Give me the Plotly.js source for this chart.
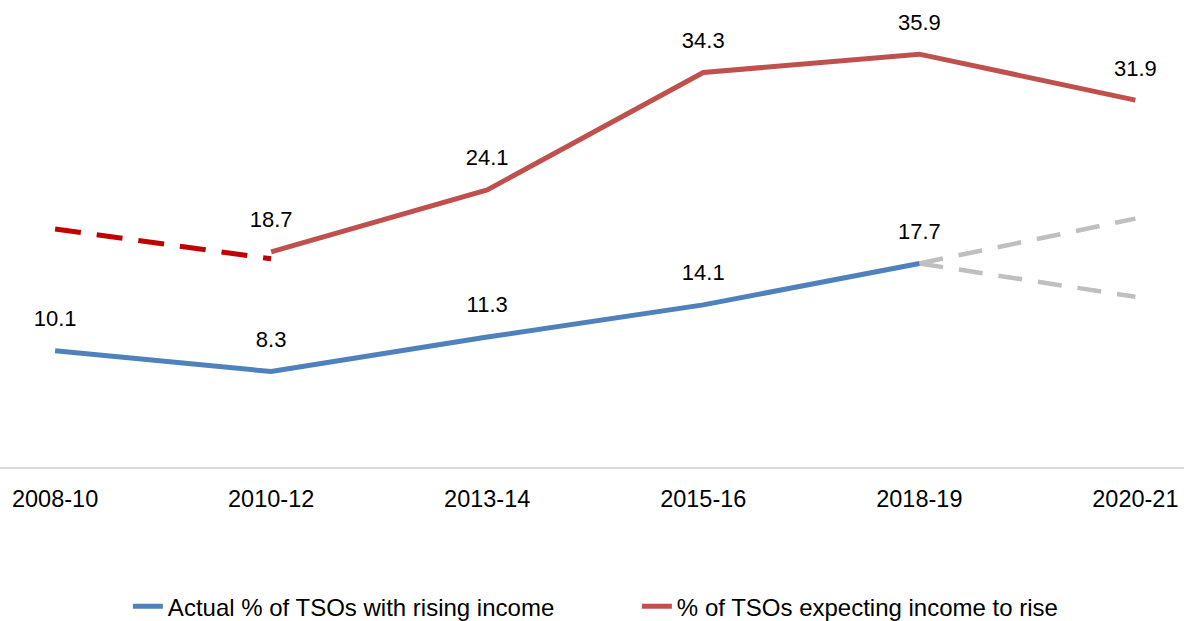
<!DOCTYPE html>
<html>
<head>
<meta charset="utf-8">
<script src="https://cdn.plot.ly/plotly-3.0.1.min.js"></script>
<style>
html,body{margin:0;padding:0;background:#fff;}
#chart{width:1184px;height:621px;}
</style>
</head>
<body>
<div id="chart"></div>
<script>
var categories = ["2008-10", "2010-12", "2013-14", "2015-16", "2018-19", "2020-21"];
var actualRising = [10.1, 8.3, 11.3, 14.1, 17.7, null];
var expectingRise = [null, 18.7, 24.1, 34.3, 35.9, 31.9];
var expectingEarlyCats = ["2008-10", "2010-12"];
var expectingEarly = [20.7, 18.1];
var projectionCats = ["2018-19", "2020-21"];
var projectionHigh = [17.7, 21.6];
var projectionLow = [17.7, 14.8];

function fmt(arr){ return arr.map(function(v){ return v === null ? "" : v.toFixed(1); }); }

var fam = "Liberation Sans, Arial, sans-serif";
var labelFont = {family: fam, size: 22, color: "#000000"};
var tickFont = {family: fam, size: 23.5, color: "#000000"};
var legendFont = {family: fam, size: 24, color: "#000000"};
var hiddenMarker = {size: 29, color: "rgba(0,0,0,0)", line: {width: 0}};

var traces = [
  {x: expectingEarlyCats, y: expectingEarly, mode: "lines", showlegend: false, hoverinfo: "skip",
   line: {color: "#C00000", width: 5, dash: "26px,16px"}},
  {x: projectionCats, y: projectionHigh, mode: "lines", showlegend: false, hoverinfo: "skip",
   line: {color: "#BFBFBF", width: 4.5, dash: "24px,16px"}},
  {x: projectionCats, y: projectionLow, mode: "lines", showlegend: false, hoverinfo: "skip",
   line: {color: "#BFBFBF", width: 4.5, dash: "24px,16px"}},
  {x: categories, y: actualRising, mode: "lines+markers+text", name: "Actual % of TSOs with rising income",
   text: fmt(actualRising), textposition: "top center", textfont: labelFont, marker: hiddenMarker,
   line: {color: "#4F81BD", width: 5}, cliponaxis: false},
  {x: categories, y: expectingRise, mode: "lines+markers+text", name: "% of TSOs expecting income to rise",
   text: fmt(expectingRise), textposition: "top center", textfont: labelFont, marker: hiddenMarker,
   line: {color: "#C0504D", width: 5}, cliponaxis: false}
];

var layout = {
  width: 1184, height: 621,
  margin: {l: 0, r: 0, t: 7, b: 154, pad: 0},
  paper_bgcolor: "#ffffff", plot_bgcolor: "#ffffff",
  font: labelFont,
  showlegend: true,
  xaxis: {
    type: "category", categoryorder: "array", categoryarray: categories,
    range: [-0.255, 5.225],
    showgrid: false, zeroline: false,
    showline: true, linecolor: "#D9D9D9", linewidth: 2,
    ticks: "", ticklabelstandoff: 10,
    tickfont: tickFont, fixedrange: true
  },
  yaxis: {
    range: [0, 40], visible: false, showgrid: false, zeroline: false, fixedrange: true
  },
  legend: {
    orientation: "h", x: 0.108, xanchor: "left", y: 0.023, yref: "container", yanchor: "middle",
    font: legendFont, entrywidth: 464, entrywidthmode: "pixels",
    traceorder: "normal", bgcolor: "rgba(0,0,0,0)", itemsizing: "trace"
  }
};

Plotly.newPlot("chart", traces, layout, {displayModeBar: false, staticPlot: true});
</script>
</body>
</html>
